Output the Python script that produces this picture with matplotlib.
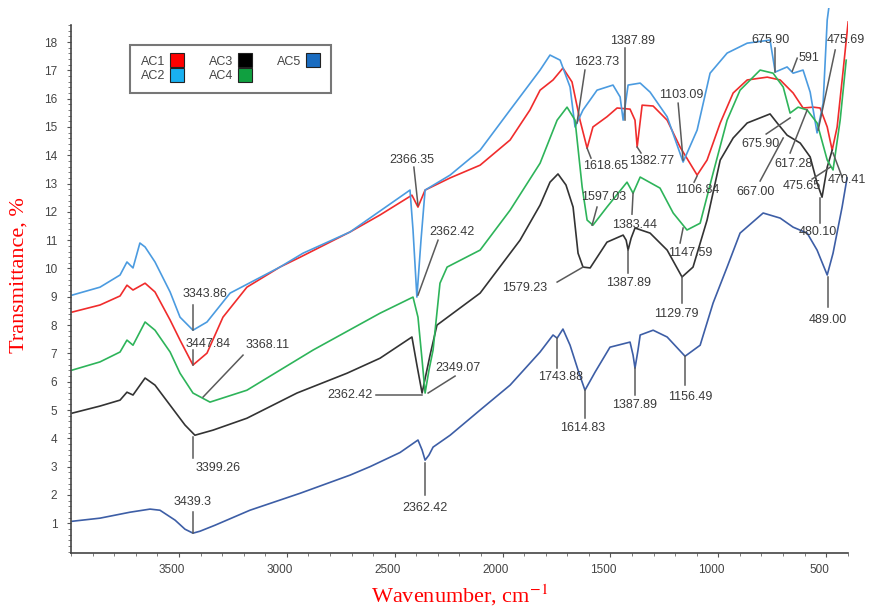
import matplotlib
matplotlib.use("Agg")
import matplotlib.pyplot as plt
from matplotlib.lines import Line2D
from matplotlib.ticker import MultipleLocator, FixedLocator
from matplotlib.transforms import ScaledTranslation

plt.rcParams["mathtext.fontset"] = "stix"

# spectra: wavenumber (cm-1), transmittance (%)
ac5_w = [3995, 3866, 3727, 3634, 3588, 3518, 3472, 3435, 3402, 3333, 3171, 2938, 2707, 2614, 2475,
         2392, 2373, 2359, 2341, 2322, 2243, 2104, 1965, 1826, 1766, 1747, 1720, 1687, 1650, 1618,
         1571, 1502, 1409, 1395, 1386, 1372, 1362, 1302, 1237, 1154, 1084, 1024, 959, 899, 792,
         713, 653, 588, 542, 495, 468, 426, 403]
ac5_t = [1.07, 1.18, 1.39, 1.50, 1.46, 1.11, 0.79, 0.65, 0.72, 0.93, 1.46, 2.06, 2.70, 3.00, 3.50,
         3.94, 3.59, 3.23, 3.41, 3.69, 4.11, 5.00, 5.88, 7.05, 7.65, 7.54, 7.86, 7.29, 6.41, 5.70,
         6.34, 7.22, 7.40, 6.94, 6.48, 7.12, 7.65, 7.82, 7.58, 6.90, 7.29, 8.78, 10.05, 11.25, 11.96,
         11.78, 11.46, 11.25, 10.65, 9.77, 10.54, 12.17, 13.20]

ac3_w = [3995, 3866, 3773, 3741, 3713, 3657, 3611, 3541, 3472, 3426, 3342, 3185, 2953, 2721, 2568,
         2420, 2397, 2373, 2336, 2304, 2104, 1919, 1826, 1780, 1743, 1706, 1673, 1650, 1627, 1594,
         1516, 1441, 1427, 1418, 1404, 1386, 1316, 1237, 1168, 1117, 1052, 991, 931, 866, 760,
         727, 681, 620, 574, 542, 519, 495, 472]
ac3_t = [4.89, 5.14, 5.35, 5.63, 5.53, 6.13, 5.88, 5.17, 4.47, 4.11, 4.29, 4.71, 5.60, 6.30, 6.83,
         7.58, 6.59, 5.60, 6.94, 8.00, 9.13, 11.00, 12.24, 13.05, 13.34, 12.95, 12.17, 10.54, 10.05, 10.02,
         10.93, 11.18, 11.00, 10.65, 11.07, 11.43, 11.25, 10.65, 9.70, 10.05, 11.71, 13.83, 14.61, 15.14, 15.46,
         15.14, 14.71, 14.43, 13.94, 13.02, 12.52, 13.58, 14.18]

ac4_w = [3995, 3866, 3773, 3741, 3713, 3657, 3611, 3541, 3495, 3435, 3356, 3185, 2878, 2568, 2415,
         2392, 2373, 2359, 2341, 2322, 2290, 2257, 2104, 1965, 1826, 1747, 1701, 1664, 1631, 1608,
         1581, 1516, 1423, 1395, 1362, 1270, 1209, 1145, 1084, 1024, 959, 899, 806, 746, 699,
         667, 630, 588, 542, 495, 468, 435, 407]
ac4_t = [6.41, 6.70, 7.05, 7.47, 7.29, 8.11, 7.82, 7.05, 6.30, 5.60, 5.28, 5.70, 7.12, 8.42, 8.99,
         8.28, 6.77, 5.60, 6.41, 7.12, 9.48, 10.05, 10.65, 12.06, 13.72, 15.24, 15.70, 15.24, 12.88, 11.71,
         11.53, 12.17, 13.05, 12.66, 13.23, 12.84, 11.96, 11.36, 11.60, 13.37, 15.24, 16.30, 17.01, 16.90, 16.41,
         15.49, 15.70, 15.60, 15.14, 13.83, 13.48, 15.24, 17.36]

ac1_w = [3995, 3866, 3773, 3741, 3713, 3657, 3611, 3541, 3495, 3435, 3370, 3296, 3185, 3032, 2938,
         2707, 2568, 2420, 2392, 2359, 2243, 2104, 1965, 1873, 1826, 1766, 1720, 1678, 1641, 1608,
         1581, 1516, 1469, 1409, 1386, 1376, 1353, 1302, 1237, 1177, 1098, 1052, 991, 931, 866,
         773, 713, 653, 607, 560, 528, 495, 472, 449, 421, 398]
ac1_t = [8.46, 8.71, 9.03, 9.41, 9.24, 9.48, 9.17, 8.18, 7.47, 6.59, 7.01, 8.28, 9.34, 10.05, 10.40,
         11.29, 11.89, 12.59, 12.17, 12.77, 13.20, 13.65, 14.54, 15.60, 16.30, 16.66, 17.08, 16.59, 15.24, 14.25,
         15.00, 15.36, 15.67, 15.63, 15.24, 14.29, 15.77, 15.74, 15.24, 14.29, 13.30, 13.83, 15.14, 16.20, 16.66,
         16.76, 16.66, 16.20, 15.67, 15.70, 15.67, 15.00, 14.18, 15.00, 17.01, 18.71]

ac2_w = [3995, 3866, 3773, 3741, 3713, 3681, 3657, 3611, 3541, 3495, 3435, 3370, 3263, 3032, 2925,
         2707, 2429, 2415, 2397, 2378, 2359, 2243, 2104, 1965, 1826, 1780, 1733, 1687, 1664, 1627,
         1562, 1488, 1455, 1441, 1418, 1362, 1316, 1237, 1163, 1098, 1038, 959, 866, 760, 736,
         681, 653, 607, 574, 542, 514, 495, 486]
ac2_t = [9.06, 9.34, 9.77, 10.23, 10.02, 10.90, 10.76, 10.23, 9.17, 8.28, 7.82, 8.11, 9.13, 10.05, 10.54,
         11.29, 12.77, 11.36, 8.99, 11.00, 12.77, 13.30, 14.18, 15.60, 17.01, 17.54, 17.36, 16.41, 15.00, 15.60,
         16.30, 16.48, 16.06, 15.24, 16.48, 16.55, 16.23, 15.36, 13.76, 14.89, 16.90, 17.61, 17.96, 18.07, 16.94,
         17.12, 16.90, 17.01, 16.23, 14.79, 15.84, 18.78, 19.30]

names = ["AC1", "AC2", "AC3", "AC4", "AC5"]
line_colors = ["#f02c2c", "#4b9be0", "#333333", "#2eb45a", "#3d5ea6"]
legend_colors = ["#ff0000", "#19b0f0", "#000000", "#10a040", "#1a6cc0"]

# peak labels: text, text pos (w, T), leader line from (w, T) to (w, T)
peaks = [
    ("3343.86", 3378, 9.10, 3435, 8.71, 3435, 7.82),
    ("3447.84", 3365, 7.33, 3435, 7.12, 3435, 6.59),
    ("3368.11", 3087, 7.29, 3203, 6.94, 3388, 5.46),
    ("3399.26", 3319, 2.95, 3435, 4.04, 3435, 3.30),
    ("3439.3", 3435, 1.75, 3435, 1.39, 3435, 0.65),
    ("2366.35", 2420, 13.83, 2411, 13.58, 2392, 12.24),
    ("2362.42", 2234, 11.29, 2299, 11.00, 2392, 9.06),
    ("2362.42", 2707, 5.53, 2587, 5.53, 2373, 5.53),
    ("2349.07", 2206, 6.48, 2345, 5.60, 2220, 6.20),
    ("2362.42", 2359, 1.53, 2359, 3.12, 2359, 1.99),
    ("1743.88", 1733, 6.16, 1747, 7.54, 1747, 6.48),
    ("1614.83", 1627, 4.36, 1618, 5.70, 1618, 4.71),
    ("1387.89", 1386, 5.17, 1386, 6.48, 1386, 5.53),
    ("1156.49", 1131, 5.46, 1154, 6.90, 1154, 5.88),
    ("1579.23", 1896, 9.31, 1747, 9.52, 1627, 10.05),
    ("1387.89", 1418, 9.48, 1418, 10.65, 1418, 9.84),
    ("1129.79", 1195, 8.39, 1168, 9.70, 1168, 8.78),
    ("1147.59", 1131, 10.54, 1163, 11.43, 1177, 10.90),
    ("1383.44", 1390, 11.53, 1395, 12.66, 1400, 11.92),
    ("1597.03", 1530, 12.52, 1585, 11.53, 1562, 12.17),
    ("1618.65", 1520, 13.62, 1608, 14.25, 1590, 13.90),
    ("1623.73", 1566, 17.29, 1618, 17.01, 1655, 15.14),
    ("1387.89", 1399, 18.04, 1432, 17.79, 1432, 15.24),
    ("1382.77", 1307, 13.79, 1376, 14.29, 1358, 14.08),
    ("1103.09", 1172, 16.13, 1186, 15.84, 1163, 13.83),
    ("1106.84", 1098, 12.77, 1098, 13.27, 1112, 13.05),
    ("675.90", 760, 18.07, 736, 17.79, 736, 16.94),
    ("591", 579, 17.43, 634, 17.43, 657, 16.97),
    ("475.69", 407, 18.07, 458, 17.72, 537, 14.89),
    ("675.90", 806, 14.40, 778, 14.75, 667, 15.32),
    ("617.28", 653, 13.69, 667, 14.08, 588, 15.60),
    ("667.00", 829, 12.70, 806, 13.09, 699, 14.61),
    ("475.65", 611, 12.91, 565, 13.16, 481, 13.58),
    ("470.41", 403, 13.12, 426, 13.23, 468, 14.08),
    ("480.10", 537, 11.29, 528, 12.49, 528, 11.60),
    ("489.00", 491, 8.18, 491, 9.70, 491, 8.64),
]

fig = plt.figure(figsize=(8.69, 6.07), dpi=100)
ax = fig.add_axes([0.0818, 0.089, 0.8937, 0.8977])

series = [(ac1_w, ac1_t), (ac2_w, ac2_t), (ac3_w, ac3_t), (ac4_w, ac4_t), (ac5_w, ac5_t)]
for (w, t), c in zip(series, line_colors):
    ax.plot(w, t, color=c, lw=1.2)

for txt, tx, ty, x0, y0, x1, y1 in peaks:
    ax.plot([x0, x1], [y0, y1], color="#5a5a5a", lw=1.1)
    ax.text(tx, ty, txt, ha="center", va="center", fontsize=9, color="#3a3a3a",
            family="Liberation Sans", clip_on=False)

ax.set_xlim(4000, 400)
ax.set_ylim(-0.05, 19.2)
ax.spines["top"].set_visible(False)
ax.spines["right"].set_visible(False)
ax.spines["left"].set_bounds(-0.05, 18.6)
for s in ["left", "bottom"]:
    ax.spines[s].set_color("#444444")
    ax.spines[s].set_linewidth(1.2)

ax.set_xticks([3500, 3000, 2500, 2000, 1500, 1000, 500])
ax.xaxis.set_minor_locator(MultipleLocator(100))
ax.set_yticks(range(1, 19))
ax.yaxis.set_minor_locator(FixedLocator([i * 0.2 for i in range(94)]))
ax.tick_params(which="major", length=3, color="#555555", labelsize=8.5, labelcolor="#444444")
ax.tick_params(axis="y", which="major", pad=7)
ax.tick_params(axis="x", which="major", pad=5)
ax.tick_params(which="minor", length=2, color="#666666")
for lab in ax.get_xticklabels() + ax.get_yticklabels():
    lab.set_family("Liberation Sans")
for lab in ax.get_xticklabels():
    lab.set_transform(lab.get_transform() + ScaledTranslation(-0.07, 0, fig.dpi_scale_trans))

ax.set_ylabel("Transmittance, %", color="red", fontsize=16, family="Liberation Serif")
ax.yaxis.set_label_coords(-0.055, 0.51)
ax.set_xlabel("Wavenumber, cm$^{-1}$", color="red", fontsize=16, family="Liberation Serif",
              va="center")
ax.xaxis.set_label_coords(0.5, -0.078)

handles = [Line2D([], [], ls="none", marker="s", markersize=10, markerfacecolor=c,
                  markeredgecolor="#222222", markeredgewidth=0.8) for c in legend_colors]
leg = ax.legend(handles, names, ncol=3, markerfirst=False, loc="upper left",
                bbox_to_anchor=(130 / 869, 1 - 45 / 607), bbox_transform=fig.transFigure,
                borderaxespad=0, fancybox=False, edgecolor="#555555", fontsize=9,
                handlelength=1.1, handletextpad=0.4, columnspacing=2.0, labelspacing=0.2,
                borderpad=0.85, frameon=True)
leg.get_frame().set_linewidth(1.5)
for t in leg.get_texts():
    t.set_color("#444444")
    t.set_family("Liberation Sans")

fig.savefig("out.png", dpi=100)
